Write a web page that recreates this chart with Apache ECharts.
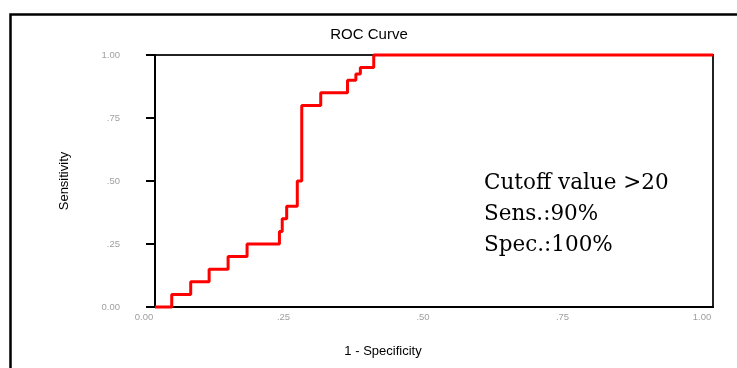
<!DOCTYPE html>
<html>
<head>
<meta charset="utf-8">
<script src="https://cdn.jsdelivr.net/npm/echarts@6/dist/echarts.min.js"></script>
<style>
  html, body { margin: 0; padding: 0; background: #fff; }
  #chart { width: 737px; height: 368px; }
</style>
</head>
<body>
<div id="chart"></div>
<script>
// ROC curve corner points (1 - specificity, sensitivity)
var fpr = [0, 0.030, 0.064, 0.097, 0.131, 0.165, 0.223, 0.228, 0.236, 0.255, 0.263, 0.297, 0.345, 0.360, 0.368, 0.392, 1.0];
var tpr = [0, 0.05, 0.10, 0.15, 0.20, 0.25, 0.30, 0.35, 0.40, 0.50, 0.80, 0.85, 0.90, 0.925, 0.95, 1.0, 1.0];

var xTickLabels = ['0.00', '.25', '.50', '.75', '1.00'];
var yTickLabels = ['0.00', '.25', '.50', '.75', '1.00'];

var noteLines = ['Cutoff value >20', 'Sens.:90%', 'Spec.:100%'];

var rocData = [];
for (var i = 0; i < fpr.length; i++) {
    rocData.push([fpr[i], tpr[i]]);
}

var myChart = echarts.init(document.getElementById('chart'));

// the note in the middle of the plot, one text per line
var noteText = [];
for (var j = 0; j < noteLines.length; j++) {
    noteText.push({
        type: 'text',
        left: 484,
        top: 172 + j * 31,
        style: {
            text: noteLines[j],
            font: '21.5px "DejaVu Serif", serif',
            fill: '#000'
        }
    });
}

var option = {
    backgroundColor: '#fff',
    animation: false,
    title: {
        text: 'ROC Curve',
        left: 364,
        top: 22,
        textAlign: 'center',
        textStyle: {
            fontFamily: '"Liberation Sans", Arial, sans-serif',
            fontWeight: 'normal',
            fontSize: 15,
            color: '#000'
        }
    },
    grid: {
        left: 155,
        right: 24,
        top: 55,
        bottom: 61,
        show: true,
        borderColor: '#222',
        borderWidth: 2
    },
    xAxis: {
        type: 'value',
        min: 0,
        max: 1,
        interval: 0.25,
        name: '1 - Specificity',
        nameLocation: 'middle',
        nameGap: 38,
        nameTextStyle: {
            fontFamily: '"Liberation Sans", Arial, sans-serif',
            fontSize: 13,
            color: '#000',
            padding: [0, 102, 0, 0]   // name sits left of the axis middle
        },
        axisLine: { show: true, lineStyle: { color: '#000', width: 2 } },
        axisTick: { show: false },
        splitLine: { show: false },
        axisLabel: {
            margin: 5,
            fontSize: 9.5,
            color: '#a0a0a0',
            fontFamily: '"Liberation Sans", Arial, sans-serif',
            padding: [0, 22, 0, 0],
            formatter: function (v) { return xTickLabels[Math.round(v / 0.25)]; }
        }
    },
    yAxis: {
        type: 'value',
        min: 0,
        max: 1,
        interval: 0.25,
        name: 'Sensitivity',
        nameLocation: 'middle',
        nameGap: 84,
        nameRotate: 90,
        nameTextStyle: {
            fontFamily: '"Liberation Sans", Arial, sans-serif',
            fontSize: 13,
            color: '#000'
        },
        axisLine: { show: true, lineStyle: { color: '#000', width: 2 } },
        axisTick: { show: true, inside: false, length: 9, lineStyle: { color: '#000', width: 2 } },
        splitLine: { show: false },
        axisLabel: {
            margin: 35,
            fontSize: 9.5,
            color: '#a0a0a0',
            fontFamily: '"Liberation Sans", Arial, sans-serif',
            formatter: function (v) { return yTickLabels[Math.round(v / 0.25)]; }
        }
    },
    series: [
        {
            type: 'line',
            data: rocData,
            step: 'end',
            symbol: 'none',
            clip: false,
            z: 5,
            lineStyle: { color: '#ff0000', width: 3, type: 'solid' }
        }
    ],
    graphic: [
        {
            type: 'rect',
            left: 8,
            top: 12,
            shape: { width: 760, height: 400 },
            style: { fill: 'none', stroke: '#000', lineWidth: 2.5 },
            silent: true
        }
    ].concat(noteText)
};

myChart.setOption(option);
</script>
</body>
</html>
